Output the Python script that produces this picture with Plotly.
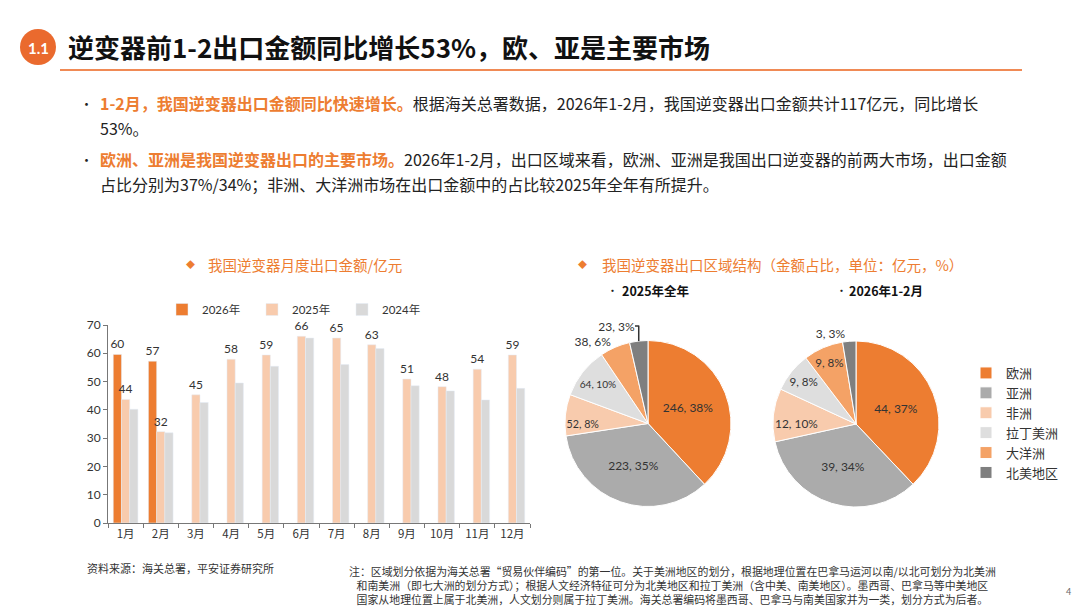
import plotly.graph_objects as go

# monthly inverter exports, 100m yuan
months = ["1月", "2月", "3月", "4月", "5月", "6月", "7月", "8月", "9月", "10月", "11月", "12月"]
y2026 = [59.6, 57.2]
y2025 = [43.7, 32.3, 45.3, 57.9, 59.4, 66.0, 65.4, 63.0, 50.9, 48.2, 54.4, 59.4]
y2024 = [40.2, 31.9, 42.6, 49.5, 55.4, 65.4, 56.0, 61.7, 48.5, 46.7, 43.5, 47.6]

# export regions
regions = ["欧洲", "亚洲", "非洲", "拉丁美洲", "大洋洲", "北美地区"]
region_2025 = [246, 223, 52, 64, 38, 23]
share_2025 = [38, 35, 8, 10, 6, 3]
region_2026 = [44, 39, 12, 9, 9, 3]
share_2026 = [37, 34, 10, 8, 8, 3]

ORANGE = "#ED7D31"
region_colors = ["#ED7D31", "#ABABAB", "#F8CBAD", "#DEDEDE", "#F4A266", "#7F7F7F"]
FONT = "Lato, 'Noto Sans CJK SC', sans-serif"
CJK = "'Noto Sans CJK SC', sans-serif"

W, H = 1080, 608


def px(x):
    return x / W


def py(y):
    return 1 - y / H


fig = go.Figure()

fig.add_trace(go.Bar(
    x=months[:len(y2026)], y=y2026, name="2026年", marker_color=ORANGE,
    text=[f"{v:.0f}" for v in y2026], textposition="outside", cliponaxis=False,
    constraintext="none", textfont=dict(size=12, color="#333"), legend="legend"))
fig.add_trace(go.Bar(
    x=months, y=y2025, name="2025年", marker_color="#F8CBAD",
    text=[f"{v:.0f}" for v in y2025], textposition="outside", cliponaxis=False,
    constraintext="none", textfont=dict(size=12, color="#333"), legend="legend"))
fig.add_trace(go.Bar(
    x=months, y=y2024, name="2024年", marker_color="#D9D9D9", legend="legend"))

pie_common = dict(
    labels=regions, sort=False, direction="clockwise", rotation=0,
    marker=dict(colors=region_colors, line=dict(color="white", width=1)),
    texttemplate="%{value}, %{customdata}%",
    textfont=dict(size=12, color="#333", family=FONT),
    insidetextorientation="horizontal", hoverinfo="label+value",
    legend="legend2",
)
fig.add_trace(go.Pie(
    values=region_2025, customdata=share_2025,
    textposition=["inside", "inside", "inside", "inside", "outside", "outside"],
    domain=dict(x=[px(565), px(731)], y=[py(507), py(340)]), **pie_common))
fig.add_trace(go.Pie(
    values=region_2026, customdata=share_2026, showlegend=False,
    textposition=["inside", "inside", "inside", "inside", "inside", "outside"],
    domain=dict(x=[px(773), px(939)], y=[py(507), py(341)]), **pie_common))

ann = []


def note(x, y, text, size, color="#222", xanchor="left", align="left", family=CJK):
    ann.append(dict(x=px(x), y=py(y), xref="paper", yref="paper", text=text,
                    showarrow=False, xanchor=xanchor, yanchor="middle", align=align,
                    font=dict(size=size, color=color, family=family)))


# header
note(38, 48, "<b>1.1</b>", 15, "white", xanchor="center", family=FONT)
note(66, 47, "<b>逆变器前1-2出口金额同比增长53%，欧、亚是主要市场</b>", 26, "#111")

# bullets
note(78, 103, "•", 13)
note(98, 103, f"<span style='color:{ORANGE}'><b>1-2月，我国逆变器出口金额同比快速增长。</b></span>"
     "根据海关总署数据，2026年1-2月，我国逆变器出口金额共计117亿元，同比增长", 16)
note(98, 128, "53%。", 16)
note(78, 159, "•", 13)
note(98, 159, f"<span style='color:{ORANGE}'><b>欧洲、亚洲是我国逆变器出口的主要市场。</b></span>"
     "2026年1-2月，出口区域来看，欧洲、亚洲是我国出口逆变器的前两大市场，出口金额", 16)
note(98, 184, "占比分别为37%/34%；非洲、大洋洲市场在出口金额中的占比较2025年全年有所提升。", 16)

# chart titles
note(184, 264, "◆", 9, ORANGE)
note(206, 264, "我国逆变器月度出口金额/亿元", 14.5, ORANGE)
note(576, 264, "◆", 9, ORANGE)
note(600, 264, "我国逆变器出口区域结构（金额占比，单位：亿元，%）", 14.5, ORANGE)
note(605, 290, "•", 11)
note(620, 290, "<b>2025年全年</b>", 12.5, "#111")
note(834, 290, "•", 11)
note(847, 290, "<b>2026年1-2月</b>", 12.5, "#111")

# footer
note(85, 568, "资料来源：海关总署，平安证券研究所", 11, "#333")
note(672, 585,
     "注：区域划分依据为海关总署“贸易伙伴编码”的第一位。关于美洲地区的划分，根据地理位置在巴拿马运河以南/以北可划分为北美洲<br>"
     "和南美洲（即七大洲的划分方式）；根据人文经济特征可分为北美地区和拉丁美洲（含中美、南美地区）。墨西哥、巴拿马等中美地区<br>"
     "国家从地理位置上属于北美洲，人文划分则属于拉丁美洲。海关总署编码将墨西哥、巴拿马与南美国家并为一类，划分方式为后者。",
     10.9, "#333", xanchor="center", align="center")
note(1068, 591, "4", 9, "#666", xanchor="center", family=FONT)

shapes = [
    dict(type="circle", xref="paper", yref="paper", x0=px(20), x1=px(56), y0=py(65), y1=py(29),
         fillcolor="#EA6A2E", line_width=0),
    dict(type="line", xref="paper", yref="paper", x0=px(60), x1=px(1022), y0=py(70), y1=py(70),
         line=dict(color="#F08A55", width=2)),
]

fig.update_layout(
    width=W, height=H, margin=dict(l=0, r=0, t=0, b=0, autoexpand=False),
    paper_bgcolor="white", plot_bgcolor="white",
    font=dict(family=FONT, size=12, color="#333"),
    barmode="group", bargap=0.3, bargroupgap=0,
    xaxis=dict(domain=[px(108), px(530)], showline=True, linecolor="#777", ticks="outside",
               tickson="boundaries", ticklen=4, tickcolor="#777", tickfont=dict(size=11.5, family=CJK)),
    yaxis=dict(domain=[py(523), py(325)], range=[0, 70], dtick=10, showline=True, linecolor="#777",
               ticks="outside", ticklen=4, tickcolor="#777", showgrid=False, zeroline=False,
               tickfont=dict(size=12)),
    legend=dict(orientation="h", x=px(162), y=py(295), xanchor="left", yanchor="top",
                entrywidth=45, entrywidthmode="pixels", font=dict(size=11.5),
                bgcolor="rgba(0,0,0,0)", itemwidth=30),
    legend2=dict(x=px(966), y=py(358), xanchor="left", yanchor="top",
                 font=dict(size=13, family=CJK), bgcolor="rgba(0,0,0,0)", itemwidth=30),
    annotations=ann, shapes=shapes,
)

# page body has a default 8px margin; drop it so the figure sits at the window corner
fig.write_html("out.html", config={"displayModeBar": False},
               post_script="document.body.style.margin='0';")
